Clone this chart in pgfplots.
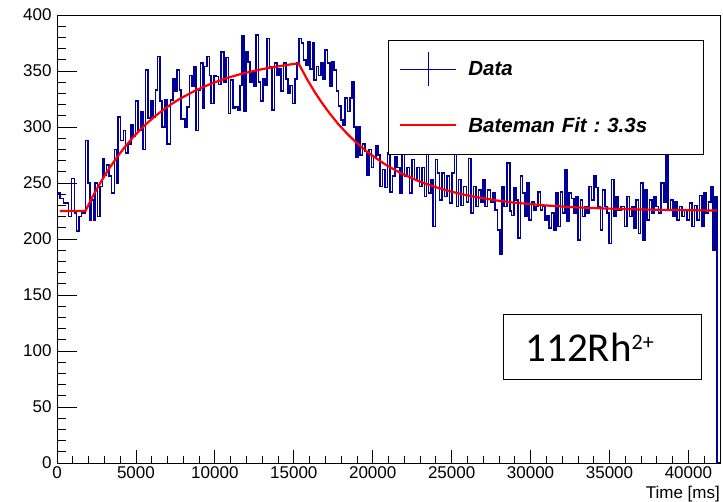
\documentclass[border=0pt]{standalone}
\usepackage{pgfplots}
\usepackage{pgfplotstable}
\pgfplotsset{compat=1.18}
\usepackage{fontspec}
\setmainfont{Liberation Sans}
\newfontfamily\carlito{Carlito}
\definecolor{navy}{RGB}{0,0,153}

\pgfplotstableread{
t v
0 241
190 236
400 232
720 220
930 254
1100 223
1245 207
1390 220
1560 223
1815 288
1980 250
2090 217
2195 235
2300 217
2405 250
2575 220
2720 247
2870 272
2995 257
3145 266
3290 256
3460 241
3630 280
3775 250
3880 309
4030 288
4200 297
4345 277
4515 285
4685 302
4830 292
4980 323
5150 297
5315 314
5465 280
5610 351
5780 308
5950 323
6100 309
6245 333
6370 363
6520 323
6670 300
6835 324
6985 285
7190 324
7340 343
7490 332
7615 351
7765 333
7870 307
8120 300
8250 318
8400 346
8545 336
8670 354
8820 297
8965 333
9090 357
9240 317
9345 354
9495 363
9660 346
9770 321
9935 346
10085 345
10240 338
10400 367
10570 340
10720 362
10865 312
10990 342
11140 317
11290 318
11455 315
11585 337
11710 381
11835 314
11985 367
12090 358
12215 340
12340 349
12470 336
12615 382
12765 340
12890 323
13040 343
13185 337
13310 379
13460 354
13610 315
13775 357
13925 346
14050 352
14200 332
14350 357
14495 343
14640 330
14770 337
14915 321
15065 343
15190 357
15340 379
15485 375
15610 360
15760 355
15905 376
16035 352
16180 375
16285 342
16435 354
16560 346
16710 357
16855 343
16985 369
17130 357
17280 336
17405 358
17555 351
17700 332
17830 319
17975 306
18120 302
18250 326
18395 314
18545 326
18670 340
18820 300
18925 273
19070 300
19200 275
19345 285
19495 278
19620 257
19770 280
19915 264
20040 273
20190 283
20340 275
20465 247
20610 262
20760 246
20930 277
21100 242
21245 256
21400 273
21540 264
21710 241
21855 285
22005 256
22170 264
22340 241
22490 271
22640 253
22805 264
22975 247
23125 264
23270 238
23400 290
23545 241
23690 253
23820 211
23965 271
24115 259
24240 235
24390 259
24535 238
24705 256
24875 232
25020 259
25170 300
25295 229
25445 253
25590 230
25760 247
25930 233
26075 272
26225 223
26390 247
26560 229
26710 244
26855 233
26985 253
27130 229
27280 244
27450 233
27615 241
27765 226
27915 208
28080 186
28185 247
28335 229
28500 268
28690 225
28800 221
28945 246
29070 235
29220 201
29365 256
29495 241
29640 220
29790 250
29915 217
30065 233
30210 226
30340 229
30485 242
30635 226
30760 229
30910 217
31055 221
31180 210
31330 223
31475 208
31605 241
31750 211
31900 242
32025 223
32175 262
32320 216
32450 241
32595 236
32745 223
32870 238
33020 199
33165 235
33290 220
33440 229
33590 223
33715 247
33860 235
34010 256
34135 246
34285 229
34430 208
34560 244
34705 229
34855 223
34980 196
35130 253
35275 220
35400 238
35550 226
35740 229
35950 211
36120 238
36265 220
36415 229
36540 210
36690 235
36835 205
36960 250
37110 199
37255 244
37385 217
37530 235
37680 223
37805 238
37955 229
38100 223
38270 250
38440 233
38585 290
38690 226
38860 235
39010 220
39155 233
39285 217
39430 229
39580 220
39750 226
39915 217
40065 232
40210 211
40380 230
40550 217
40700 239
40845 211
40970 241
41120 223
41265 233
41435 247
41560 190
41690 238
41815 0
42000 0
}\histdata

\begin{document}
\begin{tikzpicture}
\useasboundingbox (-57pt,-39pt) rectangle (666pt,463pt);
\begin{axis}[
  at={(0pt,0pt)}, anchor=south west,
  scale only axis, width=663pt, height=448pt,
  xmin=0, xmax=42000, ymin=0, ymax=400,
  axis line style={line width=0.8pt, black},
  xtick=\empty, scaled ticks=false,
  ytick={0,50,100,150,200,250,300,350,400},
  yticklabels={0,50,100,150,200,250,300,350,400},
  minor ytick={10,20,30,40,60,70,80,90,110,120,130,140,160,170,180,190,210,220,230,240,260,270,280,290,310,320,330,340,360,370,380,390},
  major tick length=20pt, minor tick length=9pt,
  tick align=inside, ytick pos=left,
  tick style={line width=0.8pt, black},
  yticklabel style={font=\fontsize{17}{17}\selectfont, xshift=-2pt},
  legend style={at={(rel axis cs:0.4992,0.944)}, anchor=north west,
    draw=black, line width=0.8pt, fill=white,
    inner xsep=0pt, inner ysep=1pt, row sep=0pt,
    font=\fontsize{20.5}{20.5}\selectfont\bfseries\itshape\frenchspacing,
    nodes={inner sep=0pt, anchor=west, text width=235pt, align=left}},
  legend cell align=left,
]
\addplot[const plot, color=navy, line width=1.6pt,
  legend image code/.code={
    \path[draw=none, fill=none] (0pt,-28pt) rectangle (80pt,28pt);
    \draw[color=navy, line width=1.2pt] (12pt,0pt) -- (68pt,0pt);
    \draw[color=navy, line width=1.2pt] (40pt,-17pt) -- (40pt,17pt);}
  ] table[x=t, y=v] {\histdata};
\addlegendentry{Data}
\addplot[color=red, line width=2.2pt,
  legend image code/.code={
    \path[draw=none, fill=none] (0pt,-28pt) rectangle (80pt,28pt);
    \draw[color=red, line width=2pt] (12pt,0pt) -- (68pt,0pt);}
  ] coordinates {
  (190,225) (1800,225) (2300,239.0) (2800,251.5) (3300,262.8) (3800,273.0)
  (4300,282.2) (4800,290.5) (5300,297.9) (5800,304.6) (6300,310.6) (6800,316.0)
  (7300,320.9) (7800,325.3) (8800,332.8) (9800,338.9) (10800,343.9) (11800,347.9)
  (12800,351.1) (13800,353.7) (14800,355.9) (15300,356.8) (15800,343.7) (16300,331.8)
  (16800,321.2) (17300,311.6) (17800,302.9) (18300,295.2) (18800,288.2) (19300,281.9)
  (19800,276.2) (20800,266.5) (21800,258.6) (22800,252.3) (23800,247.1) (24800,242.9)
  (25800,239.5) (26800,236.8) (27800,234.5) (28800,232.7) (30800,230.1) (32800,228.3)
  (34800,227.2) (36800,226.4) (38800,225.9) (41800,225.4)
};
\addlegendentry{Bateman Fit : 3.3s}
\node[draw=black, line width=1pt, fill=white, anchor=north west,
  minimum height=65pt, inner xsep=22pt, inner ysep=0pt,
  text width=154pt, align=left,
  font=\carlito\fontsize{41}{41}\selectfont]
  at (rel axis cs:0.6727,0.3326) {112Rh\raisebox{12pt}{\fontsize{22}{22}\selectfont 2+}};
\end{axis}
\begin{axis}[
  at={(0pt,0pt)}, anchor=south west,
  scale only axis, width=663pt, height=448pt,
  xmin=0, xmax=42000, ymin=0, ymax=400,
  axis line style={draw=none},
  ytick=\empty, scaled ticks=false,
  xtick={0,5000,10000,15000,20000,25000,30000,35000,40000},
  xticklabels={0,5000,10000,15000,20000,25000,30000,35000,40000},
  minor xtick={1000,2000,3000,4000,6000,7000,8000,9000,11000,12000,13000,14000,16000,17000,18000,19000,21000,22000,23000,24000,26000,27000,28000,29000,31000,32000,33000,34000,36000,37000,38000,39000,41000,42000},
  major tick length=13pt, minor tick length=7pt,
  tick align=inside, xtick pos=left,
  tick style={line width=0.8pt, black},
  xticklabel style={font=\fontsize{17}{17}\selectfont},
  xlabel={Time [ms]},
  xlabel style={at={(rel axis cs:1,0)}, anchor=base east, yshift=-36pt,
    inner sep=0pt, font=\fontsize{17}{17}\selectfont},
]
\end{axis}
\end{tikzpicture}
\end{document}
